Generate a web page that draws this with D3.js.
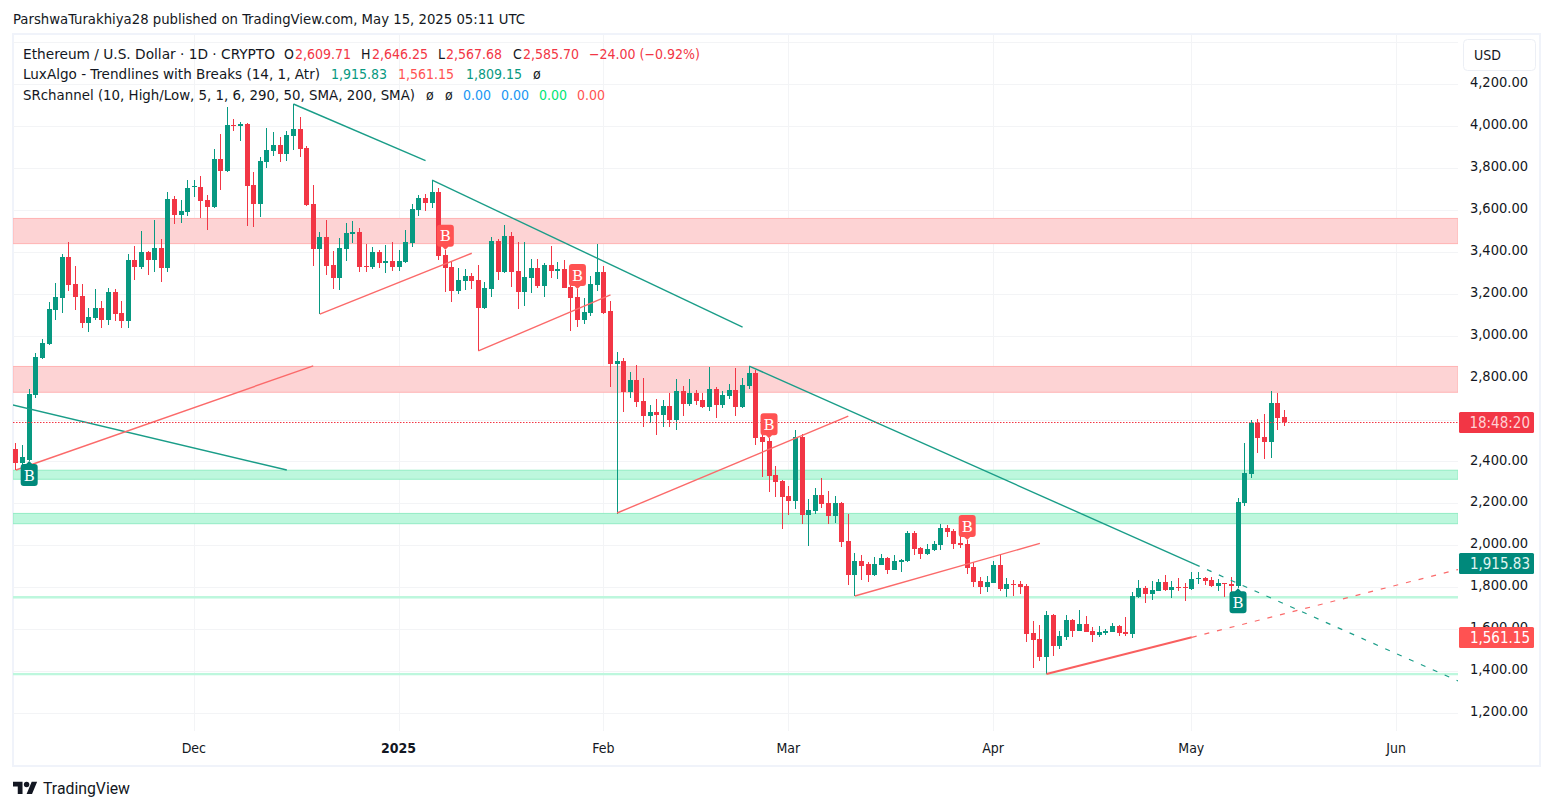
<!DOCTYPE html>
<html><head><meta charset="utf-8">
<script src="https://cdn.jsdelivr.net/npm/d3@7/dist/d3.min.js"></script>
<style>
html,body{margin:0;padding:0;background:#fff}
svg{display:block}
text{font-family:"DejaVu Sans Condensed","DejaVu Sans",sans-serif}
</style></head><body>
<svg id="c" width="1553" height="810"></svg>
<script>
const opens=[2458,2394,2407,2719,2895,2960,3123,3180,3375,3247,
3189,3062,3084,3132,3075,3208,3108,3070,3361,3329,
3399,3361,3418,3323,3652,3576,3590,3709,3709,3647,
3614,3843,3786,4005,4000,4010,3719,3628,3828,3881,
3910,3867,3953,3986,3895,3628,3413,3470,3337,3275,
3413,3485,3494,3332,3327,3399,3346,3356,3327,3351,
3442,3599,3656,3633,3685,3385,3327,3213,3260,3284,
3265,3132,3222,3451,3303,3475,3308,3208,3275,3323,
3237,3337,3308,3318,3232,3184,3074,3108,3241,3303,
3117,2865,2879,2731,2788,2688,2616,2636,2621,2664,
2597,2736,2674,2726,2693,2659,2745,2669,2712,2740,
2659,2759,2822,2516,2497,2335,2306,2235,2211,2516,
2144,2163,2240,2201,2139,2201,2020,1858,1925,1911,
1858,1906,1939,1882,1920,1925,2059,1987,1958,1977,
2001,2082,2068,2011,2006,1896,1830,1801,1820,1906,
1791,1815,1815,1806,1582,1553,1467,1667,1520,1562,
1644,1591,1625,1591,1572,1582,1586,1615,1586,1577,
1753,1796,1767,1781,1824,1786,1800,1800,1791,1840,
1843,1834,1805,1820,1815,1805,2201,2340,2583,2516,
2492,2678,2609.71];
const highs=[2487,2477,2746,2916,2983,3159,3251,3390,3447,3332,
3247,3132,3223,3165,3227,3223,3165,3390,3428,3499,
3405,3552,3461,3685,3666,3647,3743,3743,3762,3671,
3891,3962,4091,4034,4019,4012,3781,3852,3991,3972,
3948,3976,4105,4043,3905,3719,3494,3552,3404,3466,
3537,3547,3513,3437,3423,3408,3432,3447,3408,3504,
3628,3671,3676,3742,3704,3410,3356,3323,3318,3299,
3337,3256,3470,3461,3528,3494,3447,3447,3365,3365,
3346,3427,3351,3361,3240,3222,3179,3284,3437,3332,
3165,2922,2893,2826,2860,2798,2669,2698,2693,2726,
2793,2760,2793,2740,2726,2850,2755,2736,2769,2845,
2798,2855,2836,2526,2510,2378,2312,2283,2550,2531,
2221,2273,2321,2259,2235,2205,2149,1963,1954,1920,
1944,1958,1942,1954,1935,2068,2068,1992,2006,2020,
2102,2097,2078,2049,2025,1920,1849,1853,1925,1958,
1844,1834,1830,1815,1639,1620,1687,1670,1591,1667,
1650,1691,1663,1610,1615,1601,1629,1621,1658,1777,
1834,1805,1829,1839,1858,1829,1843,1820,1872,1872,
1848,1848,1839,1822,1848,2225,2487,2597,2602,2626,
2736,2726,2646.25];
const lows=[2359,2370,2402,2704,2889,2956,3075,3108,3213,3123,
3037,3018,3075,3037,3051,3070,3037,3037,3266,3318,
3290,3304,3256,3304,3533,3538,3571,3662,3561,3504,
3610,3695,3781,3976,3929,3523,3518,3566,3800,3857,
3829,3833,3886,3852,3619,3332,3103,3289,3222,3218,
3356,3442,3303,3303,3318,3322,3299,3308,3308,3347,
3423,3571,3594,3609,3361,3208,3160,3199,3218,3222,
2927,3127,3184,3265,3300,3232,3127,3141,3203,3227,
3184,3275,3270,3225,3022,3041,3055,3094,3213,3103,
2755,2150,2636,2702,2659,2564,2583,2526,2564,2564,
2550,2616,2664,2669,2655,2640,2607,2655,2700,2616,
2655,2745,2478,2326,2254,2230,2077,2144,2173,2101,
1996,2149,2178,2101,2106,1992,1811,1758,1834,1825,
1855,1905,1863,1880,1873,1922,1954,1935,1955,1975,
1977,2039,1982,1987,1863,1801,1768,1777,1818,1782,
1753,1758,1768,1539,1415,1448,1386,1472,1505,1548,
1562,1589,1584,1539,1562,1572,1584,1567,1567,1560,
1748,1724,1739,1780,1784,1748,1781,1734,1789,1815,
1810,1803,1781,1753,1770,1795,2187,2321,2440,2411,
2416,2549,2567.68];
const closes=[2394,2420,2722,2897,2964,3126,3183,3375,3242,3185,
3062,3089,3132,3075,3208,3103,3070,3361,3329,3399,
3361,3418,3323,3652,3576,3595,3705,3712,3643,3614,
3843,3786,4005,4000,4008,3714,3628,3833,3886,3910,
3867,3957,3986,3891,3623,3414,3470,3332,3275,3418,
3489,3494,3327,3328,3399,3346,3356,3327,3356,3447,
3604,3656,3633,3685,3380,3323,3213,3265,3284,3260,
3132,3227,3451,3303,3475,3303,3208,3280,3323,3237,
3337,3308,3318,3227,3179,3074,3113,3246,3303,3108,
2865,2879,2731,2788,2683,2616,2636,2621,2664,2597,
2736,2674,2726,2688,2659,2745,2669,2717,2740,2659,
2764,2822,2512,2492,2330,2302,2230,2211,2516,2144,
2168,2240,2197,2139,2201,2015,1858,1925,1901,1858,
1911,1939,1882,1925,1930,2059,1982,1958,1982,2006,
2082,2063,2006,2001,1892,1825,1801,1825,1906,1791,
1815,1812,1801,1577,1548,1467,1667,1520,1567,1644,
1591,1625,1586,1572,1586,1591,1615,1582,1577,1758,
1796,1767,1786,1824,1786,1801,1797,1797,1839,1842,
1829,1805,1820,1817,1805,2206,2344,2583,2511,2492,
2678,2607,2585.70];
const firstDay="2024-11-04";
const priceLabels=[4200,4000,3800,3600,3400,3200,3000,2800,2400,2200,2000,1800,1600,1400,1200];
const gridPrices=[4400,4200,4000,3800,3600,3400,3200,3000,2800,2600,2400,2200,2000,1800,1600,1400,1200];
const timeTicks=["2024-12-01","2025-01-01","2025-02-01","2025-03-01","2025-04-01","2025-05-01","2025-06-01"];
const timeLabels=["Dec","2025","Feb","Mar","Apr","May","Jun"];
const redZones=[[3559,3439],[2853,2730]];
const greenZones=[[2358,2315],[2152,2103]];
const thinGreenZones=[[1758,1746],[1391,1380]];
const greenLines=[
 ["2024-11-03",2673,"2024-12-15",2359],
 ["2024-12-16",4105,"2025-01-05",3835],
 ["2025-01-06",3742,"2025-02-22",3041],
 ["2025-02-23",2855,"2025-05-01T12:00Z",1909]];
const redLines=[
 ["2024-11-04",2359,"2024-12-19",2856],
 ["2024-12-20",3103,"2025-01-12",3393],
 ["2025-01-13",2927,"2025-02-02",3194],
 ["2025-02-03",2154,"2025-03-10",2616],
 ["2025-03-11",1758,"2025-04-08",2009]];
const heavyRedLine=["2025-04-09",1386,"2025-05-01",1561];
const dashedGreen=["2025-05-01T12:00Z",1909,"2025-06-10T12:00Z",1350];
const dashedRed=["2025-05-01",1561,"2025-06-10T12:00Z",1886];
const sellMarks=[65,85,114,144];
const buyMarks=[2,185];

const UP="#089981",DOWN="#f23645";
const L=13,R=1458,T=35,B=731;
const FONT="'DejaVu Sans Condensed','DejaVu Sans',sans-serif";
const svg=d3.select("#c");
const x=d3.scaleUtc().domain([new Date("2024-11-03T13:12Z"),new Date("2025-06-10T07:12Z")]).range([L,R]);
const y=d3.scaleLinear().domain([4000,1200]).range([126,713]);
const days=opens.map((_,i)=>d3.utcDay.offset(new Date(firstDay+"T00:00Z"),i));
const px=v=>Math.floor(x(v))+0.5;

// frame
svg.append("rect").attr("x",13).attr("y",34).attr("width",1527).attr("height",732)
 .attr("fill","none").attr("stroke","#f0f3fa").attr("stroke-width",2);
svg.append("defs").append("clipPath").attr("id","pane").append("rect")
 .attr("x",L).attr("y",T).attr("width",R-L).attr("height",765-T);
const pane=svg.append("g").attr("clip-path","url(#pane)");

// grid
pane.append("g").selectAll("line").data(gridPrices).join("line")
 .attr("x1",L).attr("x2",R).attr("y1",d=>Math.round(y(d))+.5).attr("y2",d=>Math.round(y(d))+.5)
 .attr("stroke","#f3f4f6");
pane.append("g").selectAll("line").data(timeTicks).join("line")
 .attr("x1",d=>px(new Date(d))).attr("x2",d=>px(new Date(d))).attr("y1",T).attr("y2",B)
 .attr("stroke","#f3f4f6");

// zones
function zones(data,fill,stroke){
 pane.append("g").selectAll("rect").data(data).join("rect")
  .attr("x",L).attr("width",R-L)
  .attr("y",d=>y(d[0])).attr("height",d=>y(d[1])-y(d[0]))
  .attr("fill",fill).attr("stroke",stroke).attr("stroke-width",1);
}
zones(redZones,"#fdd3d4","#ffb3b3");
zones(greenZones,"#bdf7dd","#93ecc4");
zones(thinGreenZones,"#bdf7dd","none");

// candles
const cg=pane.append("g").attr("shape-rendering","crispEdges");
const col=i=>closes[i]>=opens[i]?UP:DOWN;
cg.selectAll("line").data(days).join("line")
 .attr("x1",d=>px(d)).attr("x2",d=>px(d))
 .attr("y1",(d,i)=>y(highs[i])).attr("y2",(d,i)=>y(lows[i]))
 .attr("stroke",(d,i)=>col(i)).attr("stroke-width",1);
cg.selectAll("rect").data(days).join("rect")
 .attr("x",d=>px(d)-2.5).attr("width",5)
 .attr("y",(d,i)=>y(Math.max(opens[i],closes[i])))
 .attr("height",(d,i)=>Math.max(1,y(Math.min(opens[i],closes[i]))-y(Math.max(opens[i],closes[i]))))
 .attr("fill",(d,i)=>col(i));

// trend lines
const segDate=s=>new Date(s.length===10?s+"T00:00Z":s);
function trend(data,color,w,dash){
 pane.append("g").selectAll("line").data(data).join("line")
  .attr("x1",d=>x(segDate(d[0]))).attr("y1",d=>y(d[1]))
  .attr("x2",d=>x(segDate(d[2]))).attr("y2",d=>y(d[3]))
  .attr("stroke",color).attr("stroke-width",w).attr("stroke-dasharray",dash||null);
}
trend(greenLines,"#1a9d88",1.4);
trend(redLines,"#fb6a6a",1.4);
trend([heavyRedLine],"#f95f5f",2);
trend([dashedGreen],"#1a9d88",1.2,"5 8");
trend([dashedRed],"#fb6a6a",1.2,"5 8");

// last price dotted
const lastY=Math.round(y(closes[closes.length-1]))+.5;
pane.append("line").attr("x1",L).attr("x2",R).attr("y1",lastY).attr("y2",lastY)
 .attr("stroke","#f23645").attr("stroke-dasharray","1.5 1.5").attr("stroke-width",1.2);

// break markers
const GAP=3;
function marker(i,up){
 const cx=x(days[i]),tip=up?y(lows[i]):y(highs[i]),dir=up?1:-1,h=25,w=8.5,r=3;
 const top=tip+dir*GAP,bot=tip+dir*h;
 const p=d3.path();
 p.moveTo(cx,tip);p.lineTo(cx+3,top);p.lineTo(cx+w-r,top);
 p.quadraticCurveTo(cx+w,top,cx+w,top+dir*r);p.lineTo(cx+w,bot-dir*r);
 p.quadraticCurveTo(cx+w,bot,cx+w-r,bot);p.lineTo(cx-w+r,bot);
 p.quadraticCurveTo(cx-w,bot,cx-w,bot-dir*r);p.lineTo(cx-w,top+dir*r);
 p.quadraticCurveTo(cx-w,top,cx-w+r,top);p.lineTo(cx-3,top);p.closePath();
 svg.append("path").attr("d",p.toString()).attr("fill",up?"#00897b":"#ff5252");
 svg.append("text").attr("x",cx).attr("y",(top+bot)/2+5.5).attr("text-anchor","middle")
  .attr("fill","#fff").attr("font-size",15).style("font-family","'DejaVu Serif',serif").text("B");
}
sellMarks.forEach(i=>marker(i,false));
buyMarks.forEach(i=>marker(i,true));

// axes
const yAxis=d3.axisRight(y).tickValues(priceLabels).tickFormat(d3.format(",.2f")).tickSize(0).tickPadding(0);
const ya=svg.append("g").attr("transform","translate(1528,-2)").call(yAxis);
ya.select(".domain").remove();
ya.selectAll("text").attr("text-anchor","end").attr("fill","#131722").attr("font-size",14.5).style("font-family",FONT);
const xAxis=d3.axisBottom(x).tickValues(timeTicks.map(d=>new Date(d))).tickFormat((d,i)=>timeLabels[i]).tickSize(0).tickPadding(0);
const xa=svg.append("g").attr("transform","translate(-1,743)").call(xAxis);
xa.select(".domain").remove();
xa.selectAll("text").attr("fill","#131722").attr("font-size",14).style("font-family",FONT)
 .attr("font-weight",(d,i)=>timeLabels[i]==="2025"?700:400);

// price tags
const tags=[["18:48:20",422.5,"#f23645","#ffd0d4"],["1,915.83",563.5,"#00897b","#e0f5f1"],["1,561.15",637.5,"#ff5252","#fff"]];
tags.forEach(t=>{
 svg.append("rect").attr("x",1459).attr("y",t[1]-10.5).attr("width",75).attr("height",21).attr("rx",1.5).attr("fill",t[2]);
 svg.append("text").attr("x",1530).attr("y",t[1]+5).attr("text-anchor","end").attr("fill",t[3])
  .attr("font-size",15).text(t[0]);
});

// USD box
svg.append("rect").attr("x",1463.5).attr("y",39.5).attr("width",72).attr("height",31).attr("rx",4)
 .attr("fill","#fff").attr("stroke","#eceff5");
svg.append("text").attr("x",1487.5).attr("y",60).attr("text-anchor","middle").attr("fill","#131722").attr("font-size",14).text("USD");

// header + legend
const ink="#131722";
function put(xx,yy,str,color,width){
 const t=svg.append("text").attr("x",xx).attr("y",yy).attr("font-size",14).attr("fill",color).text(str);
 if(width) t.attr("textLength",width).attr("lengthAdjust","spacingAndGlyphs");
}
put(13,24,"ParshwaTurakhiya28 published on TradingView.com, May 15, 2025 05:11 UTC",ink,512);
const G="#089981",RR="#f23645",R2="#ff5252",BL="#2196f3",GN="#00e676";
put(23,59,"Ethereum / U.S. Dollar · 1D · CRYPTO",ink,252);
[["O",ink,284],["2,609.71",RR,295],["H",ink,361],["2,646.25",RR,372],["L",ink,438],["2,567.68",RR,446],["C",ink,513],["2,585.70",RR,523],["−24.00 (−0.92%)",RR,589]]
 .forEach(p=>put(p[2],59,p[0],p[1]));
put(23,79,"LuxAlgo - Trendlines with Breaks (14, 1, Atr)",ink,297);
[["1,915.83",G,331],["1,561.15",R2,398],["1,809.15",G,466],["ø",ink,533]].forEach(p=>put(p[2],79,p[0],p[1]));
put(23,100,"SRchannel (10, High/Low, 5, 1, 6, 290, 50, SMA, 200, SMA)",ink,392);
[["ø",ink,426],["ø",ink,445],["0.00",BL,463],["0.00",BL,501],["0.00",GN,539],["0.00",R2,577]].forEach(p=>put(p[2],100,p[0],p[1]));

// logo
const logo=svg.append("g").attr("transform","translate(13,779) scale(0.68)").attr("fill","#131722");
logo.append("path").attr("d","M14 22H7V11H0V4h14v18zM28 22h-8l7.5-18h8L28 22z");
logo.append("circle").attr("cx",20).attr("cy",8).attr("r",4);
svg.append("text").attr("x",43).attr("y",794).attr("fill",ink).attr("font-size",15.8).style("font-family","Roboto").text("TradingView");
</script>
</body></html>
